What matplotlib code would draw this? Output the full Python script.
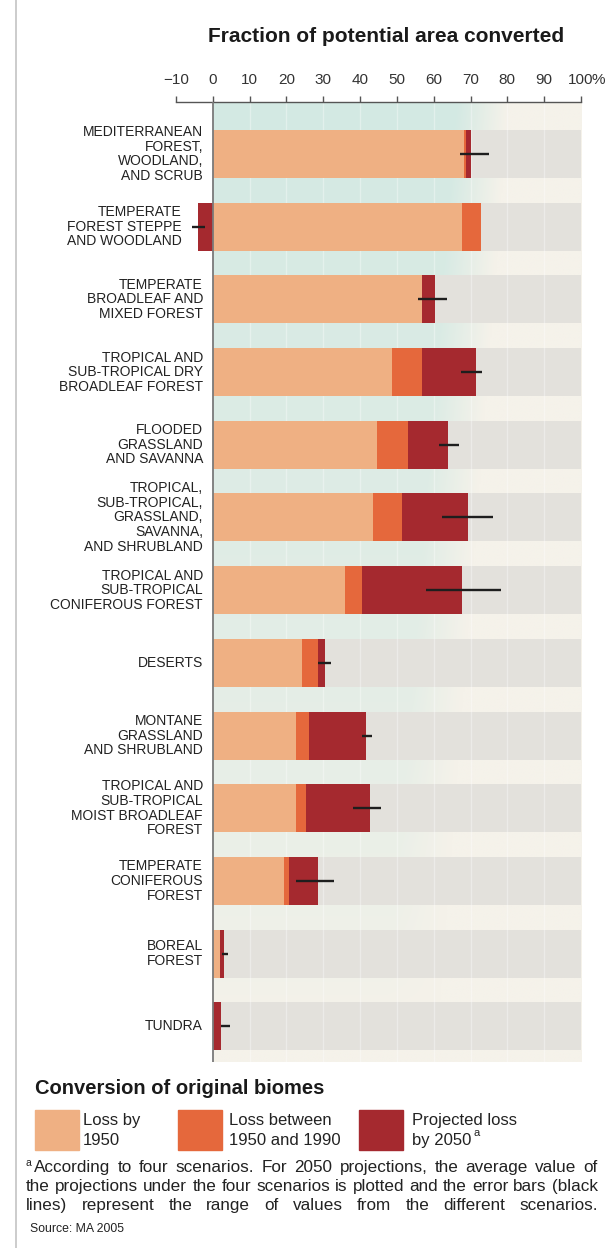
import numpy as np
import matplotlib
matplotlib.use("Agg")
import matplotlib.pyplot as plt
from matplotlib.lines import Line2D
from matplotlib.patches import Rectangle

plt.rcParams["font.family"] = ["Liberation Sans", "DejaVu Sans"]

# --- data (percent of potential area converted) ---------------------------
biomes = [
    "MEDITERRANEAN\nFOREST,\nWOODLAND,\nAND SCRUB",
    "TEMPERATE\nFOREST STEPPE\nAND WOODLAND",
    "TEMPERATE\nBROADLEAF AND\nMIXED FOREST",
    "TROPICAL AND\nSUB-TROPICAL DRY\nBROADLEAF FOREST",
    "FLOODED\nGRASSLAND\nAND SAVANNA",
    "TROPICAL,\nSUB-TROPICAL,\nGRASSLAND,\nSAVANNA,\nAND SHRUBLAND",
    "TROPICAL AND\nSUB-TROPICAL\nCONIFEROUS FOREST",
    "DESERTS",
    "MONTANE\nGRASSLAND\nAND SHRUBLAND",
    "TROPICAL AND\nSUB-TROPICAL\nMOIST BROADLEAF\nFOREST",
    "TEMPERATE\nCONIFEROUS\nFOREST",
    "BOREAL\nFOREST",
    "TUNDRA",
]
# cumulative values
loss_1950 = np.array([68.2, 67.7, 56.9, 48.6, 44.7, 43.5, 36.0, 24.3, 22.7, 22.7, 19.4, 1.9, 0.0])
loss_1990 = np.array([68.8, 72.8, 56.9, 56.9, 53.0, 51.4, 40.4, 28.6, 26.0, 25.4, 20.7, 1.9, 0.0])
proj_2050 = np.array([70.2, -4.0, 60.3, 71.4, 63.9, 69.3, 67.8, 30.6, 41.5, 42.8, 28.6, 3.0, 2.1])
err_lo = np.array([67.0, -5.7, 55.8, 67.4, 61.4, 62.3, 58.0, 28.5, 40.4, 38.2, 22.7, 2.4, 2.1])
err_hi = np.array([75.0, -2.2, 63.7, 73.0, 66.9, 76.0, 78.4, 32.0, 43.3, 45.6, 33.0, 4.0, 4.7])

ticks = [-10, 0, 10, 20, 30, 40, 50, 60, 70, 80, 90, 100]
tick_labels = ["\u221210", "0", "10", "20", "30", "40", "50", "60", "70", "80", "90", "100"]
legend_labels = [("Loss by", "1950"), ("Loss between", "1950 and 1990"),
                 ("Projected loss", "by 2050")]

# colours
C_1950 = "#efb083"
C_1990 = "#e5683c"
C_2050 = "#a5292f"
C_BAND = "#e3e1dc"
C_TEAL = np.array([0xd3, 0xe9, 0xe3]) / 255
C_CREAM = np.array([0xf5, 0xf2, 0xea]) / 255

W, H = 608, 1248
fig = plt.figure(figsize=(W / 100, H / 100), dpi=100)
fig.patch.set_facecolor("white")

# page border line on the left
fig.add_artist(Line2D([16 / W, 16 / W], [0, 1], color="#c4c4c4", lw=1.2))

ax = fig.add_axes([176 / W, 1 - 1062 / H, (581 - 176) / W, (1062 - 102) / H])
ax.set_facecolor("none")
y = np.arange(len(biomes))
ylo, yhi = -0.715, 12.49
ax.set_xlim(-10, 100)
ax.set_ylim(yhi, ylo)

# gradient background (teal top-left fading to cream)
gx = np.linspace(0, 100, 300)
gy = np.linspace(ylo, yhi, 300)
X, Y = np.meshgrid(gx, gy)
w = np.clip((72 - 1.5 * Y - X) / 14 + 0.5, 0, 1) * np.clip(1 - (Y + 0.7) / 12.5, 0, 1) ** 0.7
img = C_CREAM[None, None, :] * (1 - w[..., None]) + C_TEAL[None, None, :] * w[..., None]
ax.imshow(img, extent=(0, 100, yhi, ylo), aspect="auto", zorder=0, interpolation="bilinear")

BH = 0.66
ax.barh(y, 100, height=BH, color=C_BAND, zorder=1)
for gxv in range(10, 100, 10):
    ax.axvline(gxv, color="white", lw=1.0, alpha=0.35, zorder=1.5)

ax.barh(y, loss_1950, height=BH, color=C_1950, zorder=2)
ax.barh(y, loss_1990 - loss_1950, left=loss_1950, height=BH, color=C_1990, zorder=2)
p_left = np.where(proj_2050 >= 0, loss_1990, 0)
p_width = np.where(proj_2050 >= 0, proj_2050 - loss_1990, proj_2050)
ax.barh(y, p_width, left=p_left, height=BH, color=C_2050, zorder=2)
ax.hlines(y, err_lo, err_hi, color="#1e1e1e", lw=1.7, zorder=3)

ax.axvline(0, color="#7a7a7a", lw=1.3, zorder=4)

# biome labels
for i, lab in enumerate(biomes):
    xr = -8.4 if proj_2050[i] < 0 else -2.7
    ax.text(xr, i, lab, ha="right", va="center", fontsize=10, color="#222222",
            linespacing=1.05)

# top axis
for s in ["left", "right", "bottom"]:
    ax.spines[s].set_visible(False)
ax.spines["top"].set_color("#555555")
ax.spines["top"].set_linewidth(1.0)
ax.xaxis.set_ticks_position("top")
ax.set_xticks(ticks)
ax.set_xticklabels(tick_labels)
ax.tick_params(axis="x", direction="out", length=4, width=1.0, color="#555555",
               pad=7, labelsize=11, labelcolor="#333333")
ax.set_yticks([])
fig.text(592 / W, 1 - 80 / H, "%", fontsize=11, color="#333333", ha="left", va="center")

fig.text(386 / W, 1 - 37 / H, "Fraction of potential area converted", fontsize=15,
         fontweight="bold", ha="center", va="center", color="#1a1a1a")

# legend
fig.text(35 / W, 1 - 1089 / H, "Conversion of original biomes", fontsize=14.5,
         fontweight="bold", ha="left", va="center", color="#1a1a1a")
r = fig.canvas.get_renderer()
sw_x = [35, 178, 359]
tx_x = [83, 229, 412]
for sx, tx, col, (l1, l2) in zip(sw_x, tx_x, [C_1950, C_1990, C_2050], legend_labels):
    fig.add_artist(Rectangle((sx / W, 1 - 1150 / H), 44 / W, 40 / H, color=col,
                             transform=fig.transFigure))
    fig.text(tx / W, 1 - 1125 / H, l1, fontsize=12, ha="left", va="baseline",
             color="#222222")
    t2 = fig.text(tx / W, 1 - 1145 / H, l2, fontsize=12, ha="left", va="baseline",
                  color="#222222")
bw = t2.get_window_extent(r).width
fig.text((412 + bw + 2) / W, 1 - 1136 / H, "a", fontsize=8, ha="left", va="baseline",
         color="#222222")

# footnote, justified
foot = [
    "According to four scenarios. For 2050 projections, the average value of",
    "the projections under the four scenarios is plotted and the error bars (black",
    "lines) represent the range of values from the different scenarios.",
]
foot_x0 = [34, 26, 26]
foot_y = [1172, 1191, 1210]   # baselines

probe = fig.text(0, 0, foot[1], fontsize=10)
FS = 10 * 568 / probe.get_window_extent(r).width
probe.remove()


def justify(line, yy, x0, x1):
    words = line.split()
    objs = [fig.text(0, 1 - yy / H, wd, fontsize=FS, ha="left", va="baseline",
                     color="#222222") for wd in words]
    widths = [o.get_window_extent(r).width for o in objs]
    gap = (x1 - x0 - sum(widths)) / (len(words) - 1)
    xx = x0
    for o, wd in zip(objs, widths):
        o.set_x(xx / W)
        xx += wd + gap


for line, x0, yy in zip(foot, foot_x0, foot_y):
    justify(line, yy, x0, 598)
fig.text(26 / W, 1 - 1166 / H, "a", fontsize=7.5, ha="left", va="baseline", color="#222222")

fig.text(30 / W, 1 - 1232 / H, "Source: MA 2005", fontsize=8.8, ha="left", va="baseline",
         color="#222222")

fig.savefig("out.png", dpi=100, facecolor="white")
